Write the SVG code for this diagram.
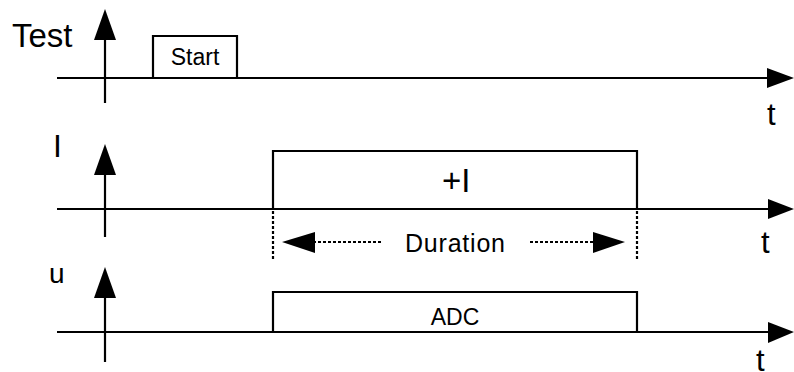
<svg xmlns="http://www.w3.org/2000/svg" width="794" height="372" viewBox="0 0 794 372">
<style>
.ax{stroke:#000;stroke-width:2.2;fill:none}
.dot{stroke:#000;stroke-width:2.2;fill:none;stroke-dasharray:3 2}
.hd{fill:#000;stroke:none}
text{font-family:"Liberation Sans",Arial,sans-serif;fill:#000}
.big{font-size:31px}
.mid{font-size:23px}
</style>
<rect width="794" height="372" fill="#fff"/>
<g id="row-test">
<line class="ax" x1="57" y1="78" x2="770" y2="78"/>
<polygon class="hd" points="767,68 794,78 767,88"/>
<line class="ax" x1="105" y1="103" x2="105" y2="36"/>
<polygon class="hd" points="105,9 94,40 116,40"/>
<text x="12" y="47" style="font-size:33px">Test</text>
<text class="big" x="767" y="125">t</text>
</g>
<g id="node-start">
<polyline class="ax" points="153,78 153,36 237,36 237,78"/>
<text class="mid" x="195" y="65" text-anchor="middle">Start</text>
</g>
<g id="row-i">
<line class="ax" x1="57" y1="209" x2="770" y2="209"/>
<polygon class="hd" points="768,199 794,209 768,219"/>
<line class="ax" x1="105" y1="237" x2="105" y2="170"/>
<polygon class="hd" points="105,144 94,175 116,175"/>
<text x="53" y="157" style="font-size:32px">I</text>
<text class="big" x="761" y="253">t</text>
</g>
<g id="node-plus-i">
<polyline class="ax" points="273,209 273,151 637,151 637,209"/>
<text x="442" y="192" style="font-size:33px">+I</text>
</g>
<g id="row-u">
<line class="ax" x1="57" y1="332" x2="770" y2="332"/>
<polygon class="hd" points="768,322 794,332 768,343"/>
<line class="ax" x1="105" y1="362" x2="105" y2="294"/>
<polygon class="hd" points="105,267 94,298 116,298"/>
<text x="49" y="283" style="font-size:28px">u</text>
<text class="big" x="756" y="371">t</text>
</g>
<g id="node-adc">
<polyline class="ax" points="273,332 273,292 637,292 637,332"/>
<text class="mid" x="455" y="325" text-anchor="middle">ADC</text>
</g>
<g id="connectors">
<line class="dot" x1="273" y1="211" x2="273" y2="260"/>
<line class="dot" x1="637" y1="211" x2="637" y2="260"/>
<line class="dot" x1="313" y1="242" x2="383" y2="242"/>
<polygon class="hd" points="282,242 315,232 315,253"/>
<line class="dot" x1="530" y1="242" x2="595" y2="242"/>
<polygon class="hd" points="625,242 593,232 593,253"/>
<text x="405" y="252" style="font-size:25px" textLength="100">Duration</text>
</g>
</svg>
